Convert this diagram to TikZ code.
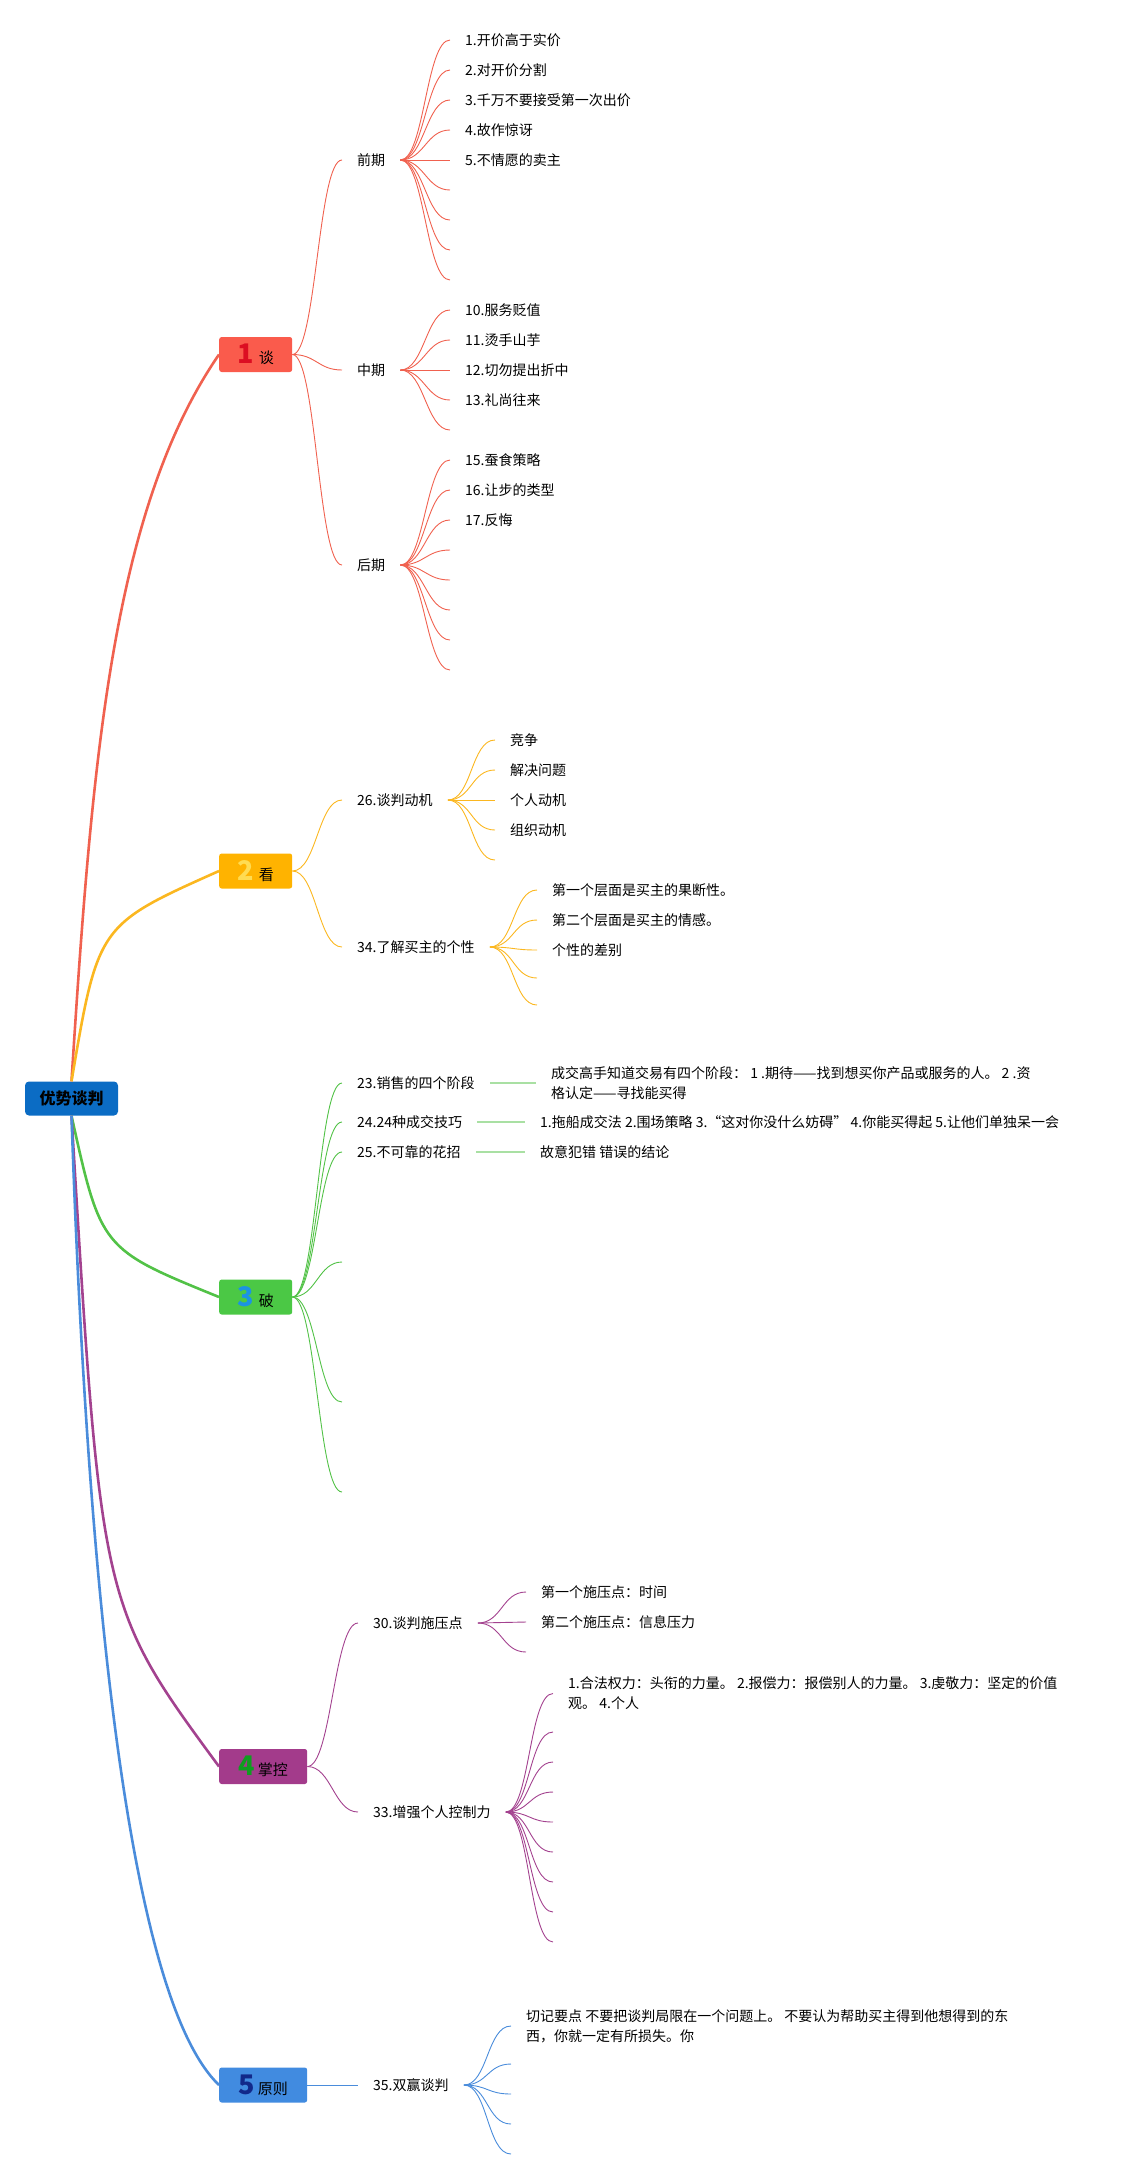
\documentclass[tikz,border=0pt]{standalone}
\usepackage{fontspec}
\setmainfont{Noto Sans CJK SC}

\definecolor{rootblue}{HTML}{0B6CC4}
\definecolor{box1}{HTML}{FA5B4C}
\definecolor{num1}{HTML}{DC0E22}
\definecolor{line1}{HTML}{F0614F}
\definecolor{box2}{HTML}{FFB300}
\definecolor{num2}{HTML}{FFDC52}
\definecolor{line2}{HTML}{FBB720}
\definecolor{box3}{HTML}{4BC845}
\definecolor{num3}{HTML}{1C93E3}
\definecolor{line3}{HTML}{52C247}
\definecolor{box4}{HTML}{A33B8B}
\definecolor{num4}{HTML}{0F9E20}
\definecolor{line4}{HTML}{A3428F}
\definecolor{box5}{HTML}{418BE0}
\definecolor{num5}{HTML}{12298A}
\definecolor{line5}{HTML}{4A8CDB}

\newcommand{\topicnum}[2]{\textcolor{#2}{\fontsize{27}{27}\selectfont\bfseries #1}}

\begin{document}
\begin{tikzpicture}[x=1pt,y=-1pt,
      myroot/.style={
         rectangle,
         rounded corners=4pt,
         fill=rootblue,
         minimum width=93pt,
         minimum height=34pt,
         inner sep=0pt,
         font=\fontsize{16}{18}\selectfont\bfseries},
      mytopic/.style={
         rectangle,
         rounded corners=2.5pt,
         anchor=west,
         minimum height=35pt,
         inner sep=0pt,
         font=\fontsize{15}{18}\selectfont},
      mytext/.style={
         anchor=west,
         inner xsep=15pt,
         inner ysep=1pt,
         align=left,
         font=\fontsize{14}{20}\selectfont},
      mymain/.style={line width=2.6pt},
      mysub/.style={line width=0.9pt},
      mybar/.style={line width=2pt},
      curvy/.style={out=0,in=180,out distance=24pt,in distance=24pt}
      ]
      \useasboundingbox (0,0) rectangle (1129,2180);
      \node[myroot] (root) at (71.5,1098.5) {优势谈判};
      \node[mytopic,fill=box1,minimum width=73pt] (t1) at (219,354.5) {\topicnum{1}{num1}\hspace{5pt}谈};
      \node[mytopic,fill=box2,minimum width=73pt] (t2) at (219,871) {\topicnum{2}{num2}\hspace{5pt}看};
      \node[mytopic,fill=box3,minimum width=73pt] (t3) at (219,1297) {\topicnum{3}{num3}\hspace{5pt}破};
      \node[mytopic,fill=box4,minimum width=88pt] (t4) at (219,1766.5) {\topicnum{4}{num4}\hspace{3pt}掌控};
      \node[mytopic,fill=box5,minimum width=88pt] (t5) at (219,2085) {\topicnum{5}{num5}\hspace{3pt}原则};
      % second level
      \node[mytext] (c11) at (342,160) {前期};
      \node[mytext] (c12) at (342,370) {中期};
      \node[mytext] (c13) at (342,565) {后期};
      \node[mytext] (c21) at (342,800) {26.谈判动机};
      \node[mytext] (c22) at (342,947) {34.了解买主的个性};
      \node[mytext] (c31) at (342,1083) {23.销售的四个阶段};
      \node[mytext] (c32) at (342,1122) {24.24种成交技巧};
      \node[mytext] (c33) at (342,1152) {25.不可靠的花招};
      \node[mytext] (c34) at (342,1262) {};
      \node[mytext] (c35) at (342,1402) {};
      \node[mytext] (c36) at (342,1492) {};
      \node[mytext] (c41) at (358,1623) {30.谈判施压点};
      \node[mytext] (c42) at (358,1812) {33.增强个人控制力};
      \node[mytext] (c51) at (358,2085) {35.双赢谈判};
      % long leaves
      \node[mytext] (d31) at (536,1083) {成交高手知道交易有四个阶段： 1 .期待——找到想买你产品或服务的人。 2 .资\\格认定——寻找能买得};
      \node[mytext] (d32) at (525,1122) {1.拖船成交法 2.围场策略 3.“这对你没什么妨碍” 4.你能买得起 5.让他们单独呆一会};
      \node[mytext] (d33) at (525,1152) {故意犯错 错误的结论};
      \node[mytext] (d421) at (553,1693.5) {1.合法权力：头衔的力量。 2.报偿力：报偿别人的力量。 3.虔敬力：坚定的价值\\观。 4.个人};
      \node[mytext] (d511) at (511,2026) {切记要点 不要把谈判局限在一个问题上。 不要认为帮助买主得到他想得到的东\\西，你就一定有所损失。你};

      % root to topics
      \draw[mymain,line1] (root.north) .. controls (92,760) and (112,510) .. (t1.west);
      \draw[mymain,line2] (root.north) .. controls (98,925) .. (t2.west);
      \foreach \t/\cy/\c in {t3/1249/line3, t4/1606/line4}
         \draw[mymain,\c] (root.south) .. controls (101,\cy) .. (\t.west);
      \draw[mymain,line5] (root.south) .. controls (88,1600) and (130,2000) .. (t5.west);

      \foreach \i/\j/\c in {% start node/end node/colour
         t1/c11/line1, t1/c12/line1, t1/c13/line1,
         t2/c21/line2, t2/c22/line2,
         t3/c31/line3, t3/c32/line3, t3/c33/line3, t3/c34/line3, t3/c35/line3, t3/c36/line3,
         t4/c41/line4, t4/c42/line4,
         t5/c51/line5,
         c42/d421/line4, c51/d511/line5}
         \draw[mysub,\c] (\i.east) to[curvy] (\j.west);
      \foreach \i/\j in {c31/d31, c32/d32, c33/d33}
         \draw[mybar,line3!50] (\i.east) -- (\j.west);

      % leaves
      \foreach \k/\v/\txt in {1/40/1.开价高于实价, 2/70/2.对开价分割, 3/100/3.千万不要接受第一次出价,
         4/130/4.故作惊讶, 5/160/5.不情愿的卖主, 6/190/{}, 7/220/{}, 8/250/{}, 9/280/{}}{
         \node[mytext] (d11\k) at (450,\v) {\txt};
         \draw[mysub,line1] (c11.east) to[curvy] (d11\k.west);
      }
      \foreach \k/\v/\txt in {1/310/10.服务贬值, 2/340/11.烫手山芋, 3/370/12.切勿提出折中,
         4/400/13.礼尚往来, 5/430/{}}{
         \node[mytext] (d12\k) at (450,\v) {\txt};
         \draw[mysub,line1] (c12.east) to[curvy] (d12\k.west);
      }
      \foreach \k/\v/\txt in {1/460/15.蚕食策略, 2/490/16.让步的类型, 3/520/17.反悔,
         4/550/{}, 5/580/{}, 6/610/{}, 7/640/{}, 8/670/{}}{
         \node[mytext] (d13\k) at (450,\v) {\txt};
         \draw[mysub,line1] (c13.east) to[curvy] (d13\k.west);
      }
      \foreach \k/\v/\txt in {1/740/竞争, 2/770/解决问题, 3/800/个人动机, 4/830/组织动机, 5/860/{}}{
         \node[mytext] (d21\k) at (495,\v) {\txt};
         \draw[mysub,line2] (c21.east) to[curvy] (d21\k.west);
      }
      \foreach \k/\v/\txt in {1/890/第一个层面是买主的果断性。, 2/920/第二个层面是买主的情感。,
         3/950/个性的差别, 4/978/{}, 5/1005/{}}{
         \node[mytext] (d22\k) at (537,\v) {\txt};
         \draw[mysub,line2] (c22.east) to[curvy] (d22\k.west);
      }
      \foreach \k/\v/\txt in {1/1592/第一个施压点：时间, 2/1622/第二个施压点：信息压力, 3/1652/{}}{
         \node[mytext] (d41\k) at (526,\v) {\txt};
         \draw[mysub,line4] (c41.east) to[curvy] (d41\k.west);
      }
      \foreach \k/\v in {2/1732, 3/1762, 4/1792, 5/1822, 6/1852, 7/1882, 8/1912, 9/1942}{
         \node[mytext] (d42\k) at (553,\v) {};
         \draw[mysub,line4] (c42.east) to[curvy] (d42\k.west);
      }
      \foreach \k/\v in {2/2064, 3/2094, 4/2124, 5/2154}{
         \node[mytext] (d51\k) at (511,\v) {};
         \draw[mysub,line5] (c51.east) to[curvy] (d51\k.west);
      }
\end{tikzpicture}
\end{document}
